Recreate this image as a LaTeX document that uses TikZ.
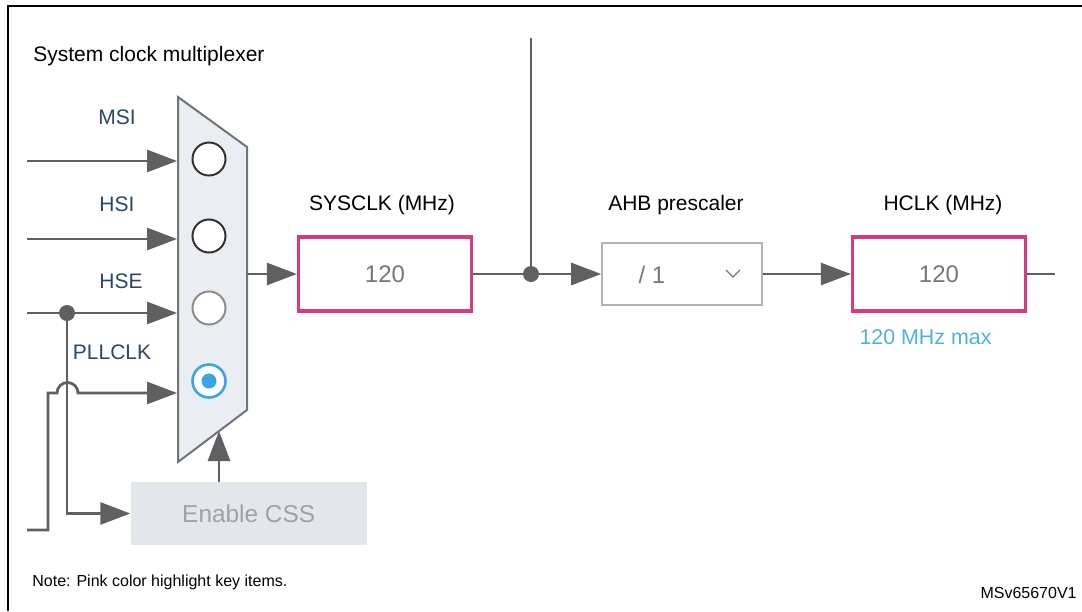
\documentclass[tikz,border=0pt]{standalone}
\usepackage{fontspec}
\setmainfont{Liberation Sans}
\usepackage{tikz}
\usetikzlibrary{arrows.meta,positioning}

\definecolor{wiregray}{HTML}{5E6062}
\definecolor{muxfill}{HTML}{EAEEF2}
\definecolor{muxline}{HTML}{707478}
\definecolor{pinkhl}{HTML}{D83B7D}
\definecolor{srcblue}{HTML}{2C4470}
\definecolor{selblue}{HTML}{3AA6DD}
\definecolor{maxblue}{HTML}{4DB2E2}
\definecolor{cssfill}{HTML}{E3E6EA}
\definecolor{csstext}{HTML}{9EA2A6}
\definecolor{valgray}{HTML}{777777}
\definecolor{boxgray}{HTML}{AEB3B8}

\begin{document}
\begin{tikzpicture}[x=0.5pt,y=-0.5pt,
  wire/.style={draw=wiregray,line width=1.4pt},
  sig/.style={wire,-{Triangle[length=15pt,width=11pt]}},
  srclbl/.style={text=srcblue,font=\fontsize{10.5}{12}\selectfont,inner sep=0pt},
  headlbl/.style={text=black,font=\fontsize{10.5}{12}\selectfont,inner sep=0pt},
  smalllbl/.style={text=black,font=\fontsize{8}{10}\selectfont,inner sep=0pt},
  selring/.style={circle,draw=#1,line width=1pt,fill=white,minimum size=16.5pt,inner sep=0pt},
  valbox/.style={draw=pinkhl,line width=1.6pt,fill=white,text=valgray,
    font=\fontsize{12}{14}\selectfont,minimum width=86.5pt,minimum height=37pt,inner sep=0pt},
  joint/.style={circle,fill=wiregray,minimum size=8pt,inner sep=0pt}]

\useasboundingbox (0,0) rectangle (1082,611);

\draw[line width=1.2pt] (8,611) -- (8,6) -- (1082,6);

\node[headlbl,anchor=base west] (muxtitle) at (33,61) {System clock multiplexer};

\draw[draw=muxline,fill=muxfill,line width=1pt] (178,97) -- (247,147) -- (247,410) -- (178,462) -- cycle;

\node[selring=black!80] (msi) at (209,159) {};
\node[selring=black!80] (hsi) at (209,236) {};
\node[selring=black!45] (hse) at (209,308) {};
\node[selring=selblue,line width=1.3pt] (pll) at (209,381) {};
\node[circle,fill=selblue,minimum size=7.5pt,inner sep=0pt] (plldot) at (pll) {};

\node[srclbl] (msilbl) at (117,117) {MSI};
\node[srclbl] (hsilbl) at (117,204) {HSI};
\node[srclbl] (hselbl) at (121,281) {HSE};
\node[srclbl] (plllbl) at (112,352) {PLLCLK};

\coordinate (msiin) at (27,161);
\coordinate (msiend) at (177,161);
\coordinate (hsiin) at (27,239);
\coordinate (hsiend) at (177,239);
\coordinate (hsein) at (27,313);
\coordinate (hseend) at (177,313);
\coordinate (pllin) at (27,530);
\coordinate (pllbend) at (48,393);
\coordinate (hopstart) at (57,393);
\coordinate (pllend) at (177,393);
\coordinate (muxout) at (247,274);
\coordinate (cssup) at (219,431);

\node[joint] (hsedot) at (67,313) {};

\node[fill=cssfill,text=csstext,font=\fontsize{12.2}{14}\selectfont,
  minimum width=118pt,minimum height=31.5pt,inner sep=0pt] (css) at (248.7,513.5) {Enable CSS};

\draw[sig] (msiin) -- (msiend);
\draw[sig] (hsiin) -- (hsiend);
\draw[wire] (hsein) -- (hsedot);
\draw[sig] (hsedot) -- (hseend);
\draw[sig] (hsedot) |- (css.west);
\draw[sig] (pllin) -| (pllbend) -- (hopstart) arc[start angle=180,end angle=360,radius=10.5] -- (pllend);
\draw[sig] (css.north -| cssup) -- (cssup);

\node[headlbl] (syslbl) at (382,205) {SYSCLK (MHz)};
\node[valbox] (sysclk) at (385,274) {120};

\node[joint] (bus) at (531,274) {};
\coordinate (bustop) at (531,38);

\node[headlbl] (ahblbl) at (676,205) {AHB prescaler};
\node[draw=boxgray,line width=0.8pt,fill=white,minimum width=80pt,minimum height=31pt,inner sep=0pt] (ahb) at (682,274) {};
\node[text=valgray,font=\fontsize{12}{14}\selectfont,inner sep=0pt] (ahbval) at (652,275) {/ 1};
\draw[draw=valgray,line width=0.6pt] ([xshift=22pt,yshift=2pt]ahb.center) -- ([xshift=25.5pt,yshift=-1.5pt]ahb.center) -- ([xshift=29pt,yshift=2pt]ahb.center);

\node[headlbl] (hclklbl) at (943,205) {HCLK (MHz)};
\node[valbox] (hclk) at (939,274) {120};
\node[text=maxblue,font=\fontsize{10.7}{12}\selectfont,inner sep=0pt] (hclkmax) at (925.5,337) {120 MHz max};
\coordinate (hclkout) at (1055,274);

\draw[sig] (muxout) -- (sysclk.west);
\draw[wire] (sysclk) -- (bus);
\draw[wire] (bus) -- (bustop);
\draw[sig] (bus) -- (ahb);
\draw[sig] (ahb) -- (hclk);
\draw[wire] (hclk) -- (hclkout);

\node[smalllbl,anchor=west] (note) at (32,582) {Note: Pink color highlight key items.};
\node[smalllbl,anchor=east] (docid) at (1077,593) {MSv65670V1};

\end{tikzpicture}
\end{document}
